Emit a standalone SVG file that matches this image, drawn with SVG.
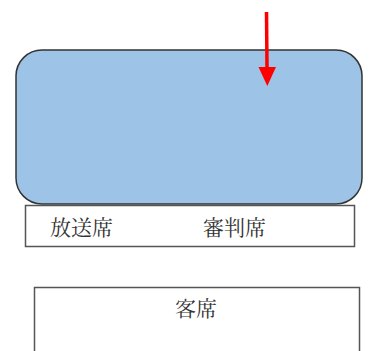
<svg xmlns="http://www.w3.org/2000/svg" width="370" height="351" viewBox="0 0 370 351">
<style>
.box{fill:#ffffff;stroke:#555555;stroke-width:1.5}
.lbl{font-family:"Noto Serif CJK JP","Noto Sans CJK JP",serif;font-size:21px;fill:#333333}
.arrow{stroke:#ff0000;stroke-width:3.5}
.head{fill:#ff0000}
</style>
<g id="field">
<rect x="16" y="50" width="346" height="154" rx="26" ry="26" fill="#9dc3e6" stroke="#333333" stroke-width="1.5"/>
</g>
<g id="booth">
<rect class="box" x="25.5" y="205.5" width="329" height="41"/>
<text class="lbl" x="50" y="235">放送席</text>
<text class="lbl" x="203" y="235">審判席</text>
</g>
<g id="stands">
<rect class="box" x="34.5" y="287.5" width="325" height="70"/>
<text class="lbl" x="196" y="316" text-anchor="middle">客席</text>
</g>
<g id="connectors">
<line class="arrow" x1="266.5" y1="12" x2="267" y2="68"/>
<path class="head" d="M258.5,67 L276,67 L267.3,86 Z"/>
</g>
</svg>
